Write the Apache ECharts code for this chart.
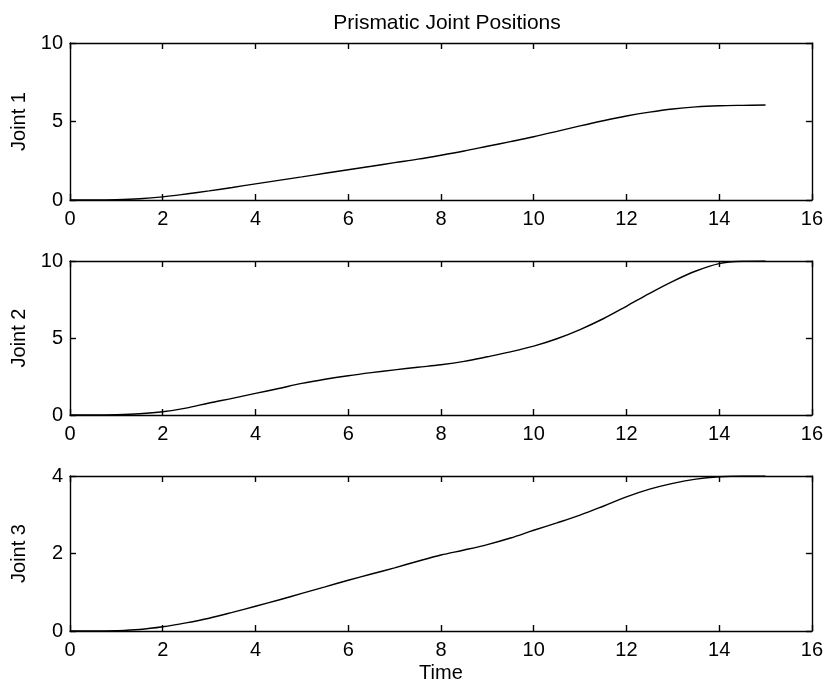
<!DOCTYPE html>
<html>
<head>
<meta charset="utf-8">
<script src="https://cdn.jsdelivr.net/npm/echarts@6/dist/echarts.min.js"></script>
<style>
html,body{margin:0;padding:0;background:#fff;}
#chart{width:826px;height:686px;}
</style>
</head>
<body>
<div id="chart"></div>
<script>
var titleText = "Prismatic Joint Positions";
var xName = "Time";
var yNames = ["Joint 1", "Joint 2", "Joint 3"];
var yMax = [10, 10, 4];
var yInterval = [5, 5, 2];
var xMin = 0, xMax = 16, xInterval = 2;

var time = [0,0.5,1,1.5,2,2.5,3,3.5,4,4.5,5,5.5,6,6.5,7,7.5,8,8.5,9,9.5,10,10.5,11,11.5,12,12.5,13,13.5,14,14.5,15];
var joint1 = [0,0,0.02,0.08,0.2,0.38,0.58,0.8,1.03,1.25,1.47,1.7,1.93,2.15,2.38,2.6,2.85,3.12,3.42,3.72,4.03,4.37,4.72,5.05,5.35,5.6,5.8,5.93,6.0,6.03,6.05];
var joint2 = [0,0,0.02,0.08,0.21,0.45,0.78,1.08,1.4,1.72,2.05,2.32,2.55,2.75,2.93,3.1,3.26,3.48,3.78,4.1,4.47,4.95,5.55,6.25,7.06,7.9,8.68,9.35,9.83,9.98,10.0];
var joint3 = [0,0,0.01,0.04,0.11,0.21,0.33,0.48,0.64,0.8,0.97,1.14,1.31,1.47,1.63,1.8,1.96,2.09,2.23,2.4,2.6,2.79,2.99,3.22,3.46,3.66,3.81,3.92,3.98,4.0,4.0];
var joints = [joint1, joint2, joint3];

var FONT = '"Liberation Sans", Arial, Helvetica, sans-serif';
var grids = [
  {left: 70, top: 43, width: 743, height: 157},
  {left: 70, top: 261, width: 743, height: 154},
  {left: 70, top: 476, width: 743, height: 155}
];

var xAxes = [], yAxes = [], series = [];
var lineStyle = {color: '#000', width: 1.4};
for (var i = 0; i < 3; i++) {
  xAxes.push({
    gridIndex: i, type: 'value', position: 'bottom', min: xMin, max: xMax, interval: xInterval,
    axisLine: {show: true, onZero: false, lineStyle: lineStyle},
    axisTick: {show: true, inside: true, length: 6, lineStyle: lineStyle},
    axisLabel: {show: true, margin: 9, color: '#000', fontSize: 20, fontFamily: FONT},
    splitLine: {show: false},
    name: i === 2 ? xName : '', nameLocation: 'middle', nameGap: 32,
    nameTextStyle: {color: '#000', fontSize: 20, fontFamily: FONT}
  });
  xAxes.push({
    gridIndex: i, type: 'value', position: 'top', min: xMin, max: xMax, interval: xInterval,
    axisLine: {show: true, onZero: false, lineStyle: lineStyle},
    axisTick: {show: true, inside: true, length: 6, lineStyle: lineStyle},
    axisLabel: {show: false}, splitLine: {show: false}
  });
  yAxes.push({
    gridIndex: i, type: 'value', position: 'left', min: 0, max: yMax[i], interval: yInterval[i],
    axisLine: {show: true, onZero: false, lineStyle: lineStyle},
    axisTick: {show: true, inside: true, length: 6, lineStyle: lineStyle},
    axisLabel: {show: true, margin: 7, color: '#000', fontSize: 20, fontFamily: FONT},
    splitLine: {show: false},
    name: yNames[i], nameLocation: 'middle', nameGap: 41, nameRotate: 90,
    nameTextStyle: {color: '#000', fontSize: 20, fontFamily: FONT}
  });
  yAxes.push({
    gridIndex: i, type: 'value', position: 'right', min: 0, max: yMax[i], interval: yInterval[i],
    axisLine: {show: true, onZero: false, lineStyle: lineStyle},
    axisTick: {show: true, inside: true, length: 6, lineStyle: lineStyle},
    axisLabel: {show: false}, splitLine: {show: false}
  });
  var d = [];
  for (var k = 0; k < time.length; k++) d.push([time[k], joints[i][k]]);
  series.push({
    type: 'line', xAxisIndex: i * 2, yAxisIndex: i * 2, data: d,
    smooth: 0.35, showSymbol: false, symbol: 'none',
    lineStyle: {color: '#000', width: 1.4}, silent: true, animation: false
  });
}

var chart = echarts.init(document.getElementById('chart'), null, {renderer: 'canvas'});
chart.setOption({
  backgroundColor: '#fff',
  animation: false,
  title: {text: titleText, left: 442, textAlign: 'center', top: 8,
    textStyle: {color: '#000', fontSize: 21, fontWeight: 'normal', fontFamily: FONT}},
  grid: grids,
  xAxis: xAxes,
  yAxis: yAxes,
  series: series
});
</script>
</body>
</html>
